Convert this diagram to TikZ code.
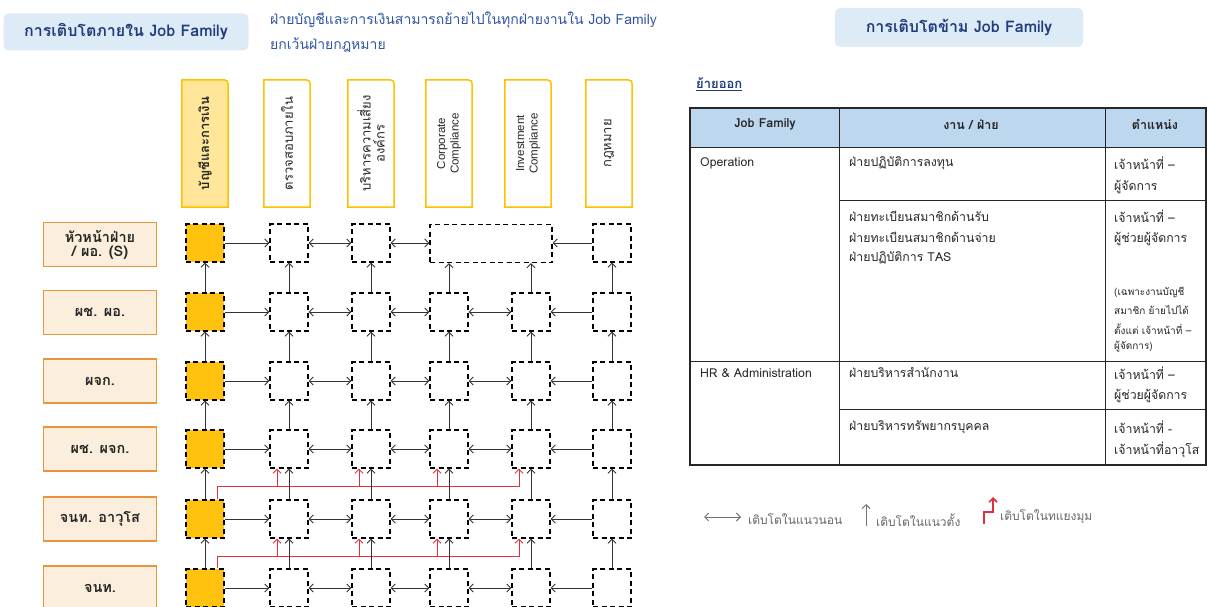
\documentclass[tikz,border=0pt]{standalone}
\usepackage{fontspec}
\setmainfont[Script=Thai]{Loma}
\newfontfamily\arialf{Liberation Sans}
\usetikzlibrary{arrows.meta}
\definecolor{ttlbg}{HTML}{DDEBF7}
\definecolor{ttlfg}{HTML}{203C7C}
\definecolor{notefg}{HTML}{2F55A0}
\definecolor{hdrfill}{HTML}{FFE699}
\definecolor{hdrline}{HTML}{FFC000}
\definecolor{cellyel}{HTML}{FFC20E}
\definecolor{lblfill}{HTML}{FBEEDC}
\definecolor{lblline}{HTML}{E9953C}
\definecolor{tblhead}{HTML}{BDD7EE}
\definecolor{redarr}{HTML}{E0313B}
\definecolor{txt}{HTML}{262626}
\begin{document}
\begin{tikzpicture}[x=1pt,y=-1pt,
  >={Straight Barb[length=4pt,width=8pt]},
  cell/.style={draw=black, line width=1.4pt, dash pattern=on 5pt off 3.5pt, minimum width=38pt, minimum height=38pt, inner sep=0pt},
  ycell/.style={cell, fill=cellyel},
  arr/.style={->, line width=0.9pt, draw=black!80},
  darr/.style={<->, line width=0.9pt, draw=black!80},
  rarr/.style={line width=0.8pt, draw=redarr},
  lbl/.style={draw=lblline, line width=1.5pt, fill=lblfill, minimum width=113pt, minimum height=44pt, align=center, font=\bfseries\fontsize{14.5}{16}\selectfont, text=txt, inner sep=1pt},
  hdrbox/.style={minimum width=46pt, minimum height=127pt, inner sep=0pt},
  hdrline/.style={draw=hdrline, line width=1.5pt},
  hdrtxt/.style={rotate=90, align=center, font=\fontsize{13}{14}\selectfont, text=txt},
  latxt/.style={rotate=90, align=center, font=\arialf\fontsize{11.5}{13.5}\selectfont, text=txt},
  ttl/.style={fill=ttlbg, rounded corners=5pt, text=ttlfg, font=\bfseries\fontsize{16}{18}\selectfont, inner sep=0pt},
  tt/.style={anchor=west, font=\fontsize{12.3}{14}\selectfont, text=txt, inner sep=0pt},
  ts/.style={anchor=west, font=\fontsize{10}{12}\selectfont, text=txt, inner sep=0pt},
  lg/.style={anchor=west, font=\fontsize{12}{14}\selectfont, text=black!60, inner sep=0pt},
  th/.style={font=\bfseries\fontsize{12.5}{14}\selectfont, text=txt, inner sep=0pt},
  note/.style={anchor=west, font=\fontsize{14}{16}\selectfont, text=notefg, inner sep=0pt},
  tline/.style={line width=0.9pt, draw=black!85},
  touter/.style={line width=1.5pt, draw=black!85},
]
\useasboundingbox (0,0) rectangle (1207,607);
\clip (0,0) rectangle (1207,607);

% titles
\node[ttl, minimum width=245pt, minimum height=37pt] (ttlA) at (126,32) {การเติบโตภายใน Job Family};
\node[note] (noteA) at (270,20) {ฝ่ายบัญชีและการเงินสามารถย้ายไปในทุกฝ่ายงานใน Job Family};
\node[note] (noteB) at (270,45) {ยกเว้นฝ่ายกฎหมาย};
\node[ttl, minimum width=248pt, minimum height=39pt] (ttlB) at (959,27.5) {การเติบโตข้าม Job Family};

% column headers
\foreach \i/\x in {1/205,2/287,3/371,4/449,5/528,6/609} {
  \node[hdrbox] (h\i) at (\x,143.5) {};
}
\foreach \i in {1,...,6} {
  \ifnum\i=1 \def\hf{hdrfill}\else\def\hf{white}\fi
  \filldraw[hdrline, fill=\hf] (h\i.south west) -- (h\i.north west) -- ([xshift=-9pt]h\i.north east) .. controls (h\i.north east) .. ([yshift=-9pt]h\i.north east) -- (h\i.south east) -- cycle;
}
\node[hdrtxt, font=\bfseries\fontsize{13}{14}\selectfont] (t1) at (h1) {บัญชีและการเงิน};
\node[hdrtxt] (t2) at (h2) {ตรวจสอบภายใน};
\node[hdrtxt] (t3) at (h3) {บริหารความเสี่ยง\\องค์กร};
\node[latxt] (t4) at (h4) {Corporate\\Compliance};
\node[latxt] (t5) at (h5) {Investment\\Compliance};
\node[hdrtxt] (t6) at (h6) {กฎหมาย};

% row labels
\node[lbl] (l1) at (100,244.5) {หัวหน้าฝ่าย\\[-2pt]/ ผอ. (S)};
\node[lbl] (l2) at (100,312.5) {ผช. ผอ.};
\node[lbl] (l3) at (100,381) {ผจก.};
\node[lbl] (l4) at (100,449) {ผช. ผจก.};
\node[lbl] (l5) at (100,519) {จนท. อาวุโส};
\node[lbl] (l6) at (100,588) {จนท.};

% cells
\node[ycell] (b-1-1) at (205,243) {};
\node[cell] (b-1-2) at (289,243) {};
\node[cell] (b-1-3) at (371,243) {};
\node[cell, minimum width=122pt] (W) at (491,243.5) {};
\node[cell] (b-1-6) at (612,243) {};
\foreach \r/\y in {2/312,3/381,4/449,5/519,6/588} {
  \node[ycell] (b-\r-1) at (205,\y) {};
  \foreach \c/\x in {2/289,3/371,4/449,5/531,6/612} {
    \node[cell] (b-\r-\c) at (\x,\y) {};
  }
}

% red diagonal growth
\draw[rarr] ([xshift=12pt]b-5-1.north) -- ++(0,-13) coordinate (ra) -| ([xshift=-12pt]b-4-5.south);
\draw[rarr,->] ([xshift=-12pt]b-4-5.south |- ra) -- ([xshift=-12pt]b-4-5.south);
\foreach \c in {2,3,4}
  \draw[rarr,->] ([xshift=-12pt]b-4-\c.south |- ra) -- ([xshift=-12pt]b-4-\c.south);
\draw[rarr] ([xshift=12pt]b-6-1.north) -- ++(0,-12) coordinate (rb) -| ([xshift=-12pt]b-5-5.south);
\draw[rarr,->] ([xshift=-12pt]b-5-5.south |- rb) -- ([xshift=-12pt]b-5-5.south);
\foreach \c in {2,3,4}
  \draw[rarr,->] ([xshift=-12pt]b-5-\c.south |- rb) -- ([xshift=-12pt]b-5-\c.south);

% horizontal arrows
\foreach \r in {1,...,6} \draw[arr] (b-\r-1) -- (b-\r-2);
\draw[darr] (b-1-2) -- (b-1-3);
\draw[darr] (b-1-3.east) -- (b-1-3.east -| W.west);
\draw[arr] (b-1-6.west) -- (b-1-6.west -| W.east);
\foreach \r in {2,...,6} {
  \draw[darr] (b-\r-2) -- (b-\r-3);
  \draw[darr] (b-\r-3) -- (b-\r-4);
  \draw[darr] (b-\r-4) -- (b-\r-5);
  \draw[arr] (b-\r-6) -- (b-\r-5);
}

% vertical arrows
\foreach \c in {1,2,3,6} \draw[arr] (b-2-\c) -- (b-1-\c);
\foreach \c in {4,5} \draw[arr] (b-2-\c.north) -- (b-2-\c.north |- W.south);
\foreach \r/\s in {2/3,3/4,4/5,5/6}
  \foreach \c in {1,...,6} \draw[arr] (b-\s-\c) -- (b-\r-\c);

% right side: table
\node[anchor=west, inner sep=0pt, text=ttlfg, font=\bfseries\fontsize{13}{15}\selectfont] (move) at (696,84) {\underline{ย้ายออก}};
\fill[tblhead] (690,108) rectangle (1206,147);
\draw[tline] (690,147) -- (1206,147);
\draw[tline] (839,108) -- (839,465);
\draw[tline] (1105,108) -- (1105,465);
\draw[tline] (839,200) -- (1206,200);
\draw[tline] (690,361) -- (1206,361);
\draw[tline] (839,409) -- (1206,409);
\draw[touter] (690,108) rectangle (1206,465);

\node[th] (c1) at (765,124.5) {Job Family};
\node[th] (c2) at (971,124.5) {งาน / ฝ่าย};
\node[th] (c3) at (1155,124.5) {ตำแหน่ง};

\node[tt] (o1) at (700,163) {Operation};
\node[tt] (o2) at (849,163) {ฝ่ายปฏิบัติการลงทุน};
\node[tt] (o3) at (1114,163) {เจ้าหน้าที่ –};
\node[tt] (o4) at (1114,187) {ผู้จัดการ};
\node[tt] (o5) at (849,216) {ฝ่ายทะเบียนสมาชิกด้านรับ};
\node[tt] (o6) at (849,237) {ฝ่ายทะเบียนสมาชิกด้านจ่าย};
\node[tt] (o7) at (849,258) {ฝ่ายปฏิบัติการ TAS};
\node[tt] (o8) at (1114,216) {เจ้าหน้าที่ –};
\node[tt] (o9) at (1114,239) {ผู้ช่วยผู้จัดการ};
\node[ts] (o10) at (1114,292) {(เฉพาะงานบัญชี};
\node[ts] (o11) at (1114,310.5) {สมาชิก ย้ายไปได้};
\node[ts] (o12) at (1114,329) {ตั้งแต่ เจ้าหน้าที่ –};
\node[ts] (o13) at (1114,347) {ผู้จัดการ)};
\node[tt] (p1) at (700,373) {HR \& Administration};
\node[tt] (p2) at (849,373) {ฝ่ายบริหารสำนักงาน};
\node[tt] (p3) at (1114,373) {เจ้าหน้าที่ –};
\node[tt] (p4) at (1114,396) {ผู้ช่วยผู้จัดการ};
\node[tt] (p5) at (849,427) {ฝ่ายบริหารทรัพยากรบุคคล};
\node[tt] (p6) at (1114,427) {เจ้าหน้าที่ -};
\node[tt] (p7) at (1114,450) {เจ้าหน้าที่อาวุโส};

% legend
\coordinate (g1a) at (704,517);
\coordinate (g1b) at (741,517);
\draw[<->, line width=0.9pt, draw=black!55] (g1a) -- (g1b);
\node[lg] (g1t) at (748,519) {เติบโตในแนวนอน};
\coordinate (g2a) at (866,526);
\coordinate (g2b) at (866,504);
\draw[->, line width=0.9pt, draw=black!55] (g2a) -- (g2b);
\node[lg] (g2t) at (876,520) {เติบโตในแนวตั้ง};
\coordinate (g3a) at (984,524);
\coordinate (g3b) at (993,497);
\draw[->, line width=1.6pt, draw=redarr] (g3a) |- ++(9,-12) -- (g3b);
\node[lg] (g3t) at (1000,517) {เติบโตในทแยงมุม};
\end{tikzpicture}
\end{document}
